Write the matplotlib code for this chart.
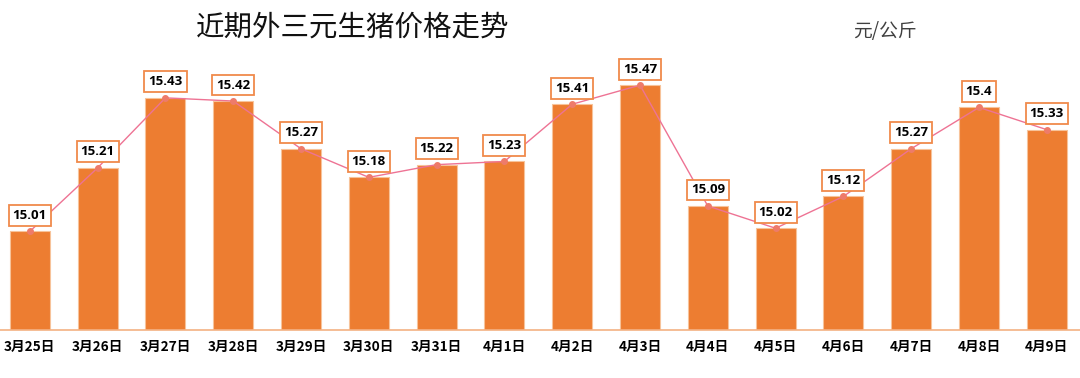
import matplotlib
matplotlib.use("Agg")
import matplotlib.pyplot as plt

dates = ["3月25日", "3月26日", "3月27日", "3月28日", "3月29日", "3月30日", "3月31日",
         "4月1日", "4月2日", "4月3日", "4月4日", "4月5日", "4月6日", "4月7日", "4月8日", "4月9日"]
prices = [15.01, 15.21, 15.43, 15.42, 15.27, 15.18, 15.22, 15.23,
          15.41, 15.47, 15.09, 15.02, 15.12, 15.27, 15.4, 15.33]
title = "近期外三元生猪价格走势"
unit = "元/公斤"

plt.rcParams['font.family'] = ['Noto Sans CJK SC', 'DejaVu Sans']

fig = plt.figure(figsize=(10.8, 3.78), dpi=100)
ax = fig.add_axes([0.0, 48/378, 1.0, 318/378])

x = list(range(len(dates)))
ax.bar(x, [p - 14.7 for p in prices], bottom=14.7, width=0.59, color='#ED7D31',
       edgecolor='#F7C39A', linewidth=0.8, zorder=1)
ax.plot(x, prices, color='#EE7394', linewidth=1.0, zorder=2,
        marker='o', markersize=4, markerfacecolor='#EE7B6A', markeredgecolor='#EE7B6A')

for xi, p in zip(x, prices):
    ax.annotate(f"{p:g}", (xi, p), xytext=(0, 16), textcoords='offset pixels',
                ha='center', va='center', fontsize=9.5, fontweight='bold',
                family=['Open Sans', 'DejaVu Sans'], color='black', zorder=4,
                bbox=dict(boxstyle='square,pad=0.3', facecolor='white',
                          edgecolor='#F08A4B', linewidth=1.3))

ax.set_xlim(-0.44, 15.49)
ax.set_ylim(14.7, 15.7)
for s in ['top', 'right', 'left']:
    ax.spines[s].set_visible(False)
ax.spines['bottom'].set_color('#F4B183')
ax.spines['bottom'].set_linewidth(1.2)
ax.set_yticks([])
ax.set_xticks(x)
ax.set_xticklabels(dates, fontsize=9.8, fontweight='bold')
ax.tick_params(axis='x', length=0, pad=7)

fig.text(353/1080, 1 - 28/378, title, ha='center', va='center', fontsize=20.5, color='#111111')
fig.text(885/1080, 1 - 31/378, unit, ha='center', va='center', fontsize=13.5, color='#404040',
         fontweight='light')

fig.savefig("out.png", dpi=100)
